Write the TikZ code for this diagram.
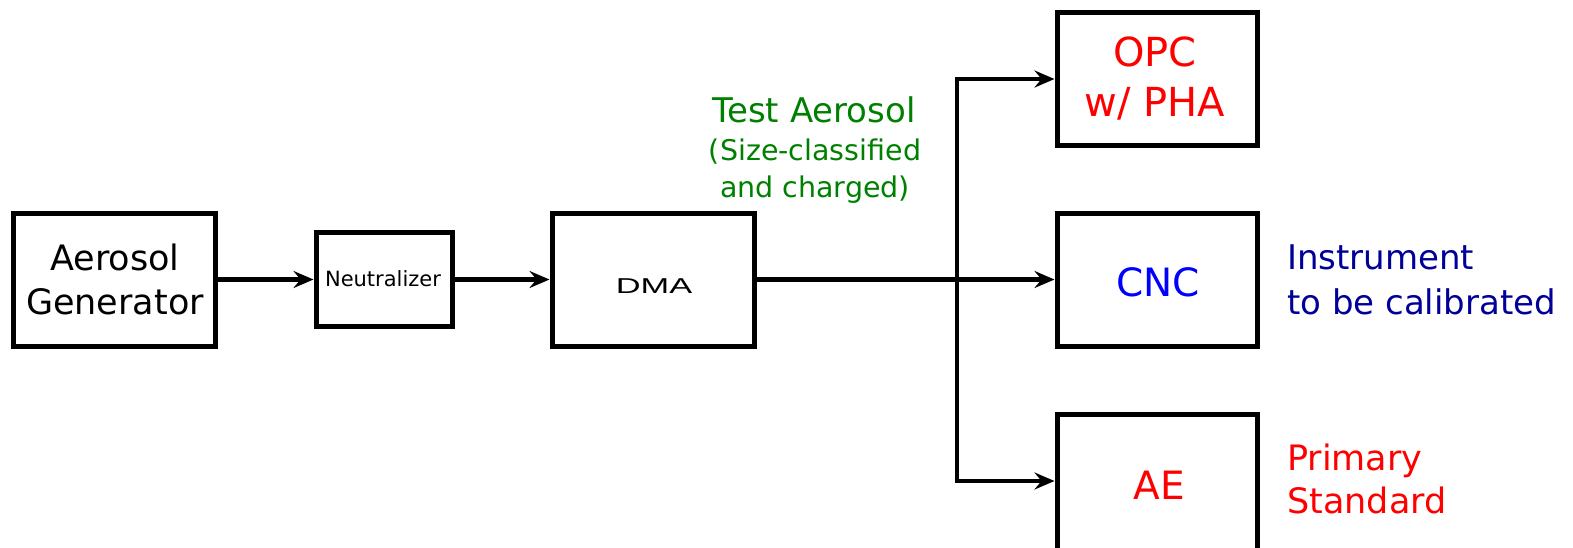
\documentclass[tikz,border=0pt]{standalone}
\usepackage{fontspec}
\setmainfont{DejaVu Sans}
\newfontfamily\arialfont{Liberation Sans}
\usetikzlibrary{arrows.meta}
\definecolor{tgreen}{RGB}{0,128,0}
\definecolor{tnavy}{RGB}{0,0,153}
\definecolor{tblue}{RGB}{0,0,255}
\definecolor{tred}{RGB}{255,0,0}
\tikzset{
  blk/.style={draw=black, line width=5pt, inner sep=0pt, minimum width=202pt, minimum height=133pt},
  conn/.style={line width=4.5pt},
  arr/.style={conn, -{Stealth[length=20pt,width=17pt,inset=7pt]}},
  lbl/.style={inner sep=0pt, align=center}
}
\begin{document}
\begin{tikzpicture}[x=1pt,y=-1pt]
\useasboundingbox (0,0) rectangle (1573,547);
% boxes
\node[blk] (gen) at (114.5,279.5) {};
\node[blk, minimum width=136pt, minimum height=94pt] (neu) at (384,279.5) {};
\node[blk] (dma) at (653,279.5) {};
\node[blk, minimum width=200pt] (opc) at (1157,79) {};
\node[blk, minimum width=200pt] (cnc) at (1157,279.5) {};
\node[blk, minimum width=200pt, minimum height=136pt] (ae) at (1157,482) {};
% texts in boxes
\node[lbl, font=\fontsize{35}{44}\selectfont] (gent) at (115,279) {Aerosol\\Generator};
\node[lbl, font=\fontsize{21}{25}\selectfont] (neut) at (383,279) {Neutralizer};
\node[lbl] (dmat) at (654,286) {\scalebox{1.6}[1]{\arialfont\fontsize{21.5}{24}\selectfont DMA}};
\node[lbl, text=tred, font=\fontsize{40}{50}\selectfont] (opct) at (1155,79) {OPC\\w/ PHA};
\node[lbl, text=tblue, font=\fontsize{39}{46}\selectfont] (cnct) at (1158,282) {CNC};
\node[lbl, text=tred, font=\fontsize{39}{46}\selectfont] (aet) at (1159,485) {AE};
% side labels
\node[lbl, align=left, anchor=west, text=tnavy, font=\fontsize{34}{45}\selectfont] (inst) at (1287,280) {Instrument\\to be calibrated};
\node[lbl, align=left, anchor=west, text=tred, font=\fontsize{35}{43}\selectfont] (prim) at (1287,479) {Primary\\Standard};
\node[lbl, text=tgreen, font=\fontsize{34}{44}\selectfont] (test) at (814,110) {Test Aerosol};
\node[lbl, text=tgreen, font=\fontsize{28.5}{37}\selectfont] (sizec) at (815,171) {(Size-classified\\and charged)};
% connectors
\coordinate (j) at (957,279.5);
\draw[arr] (gen) -- (neu);
\draw[arr] (neu) -- (dma);
\draw[arr] (dma.east) -- (cnc.west);
\draw[arr] (j) |- (opc.west);
\draw[arr] (j) |- (ae.west |- 0,481);
\end{tikzpicture}
\end{document}
